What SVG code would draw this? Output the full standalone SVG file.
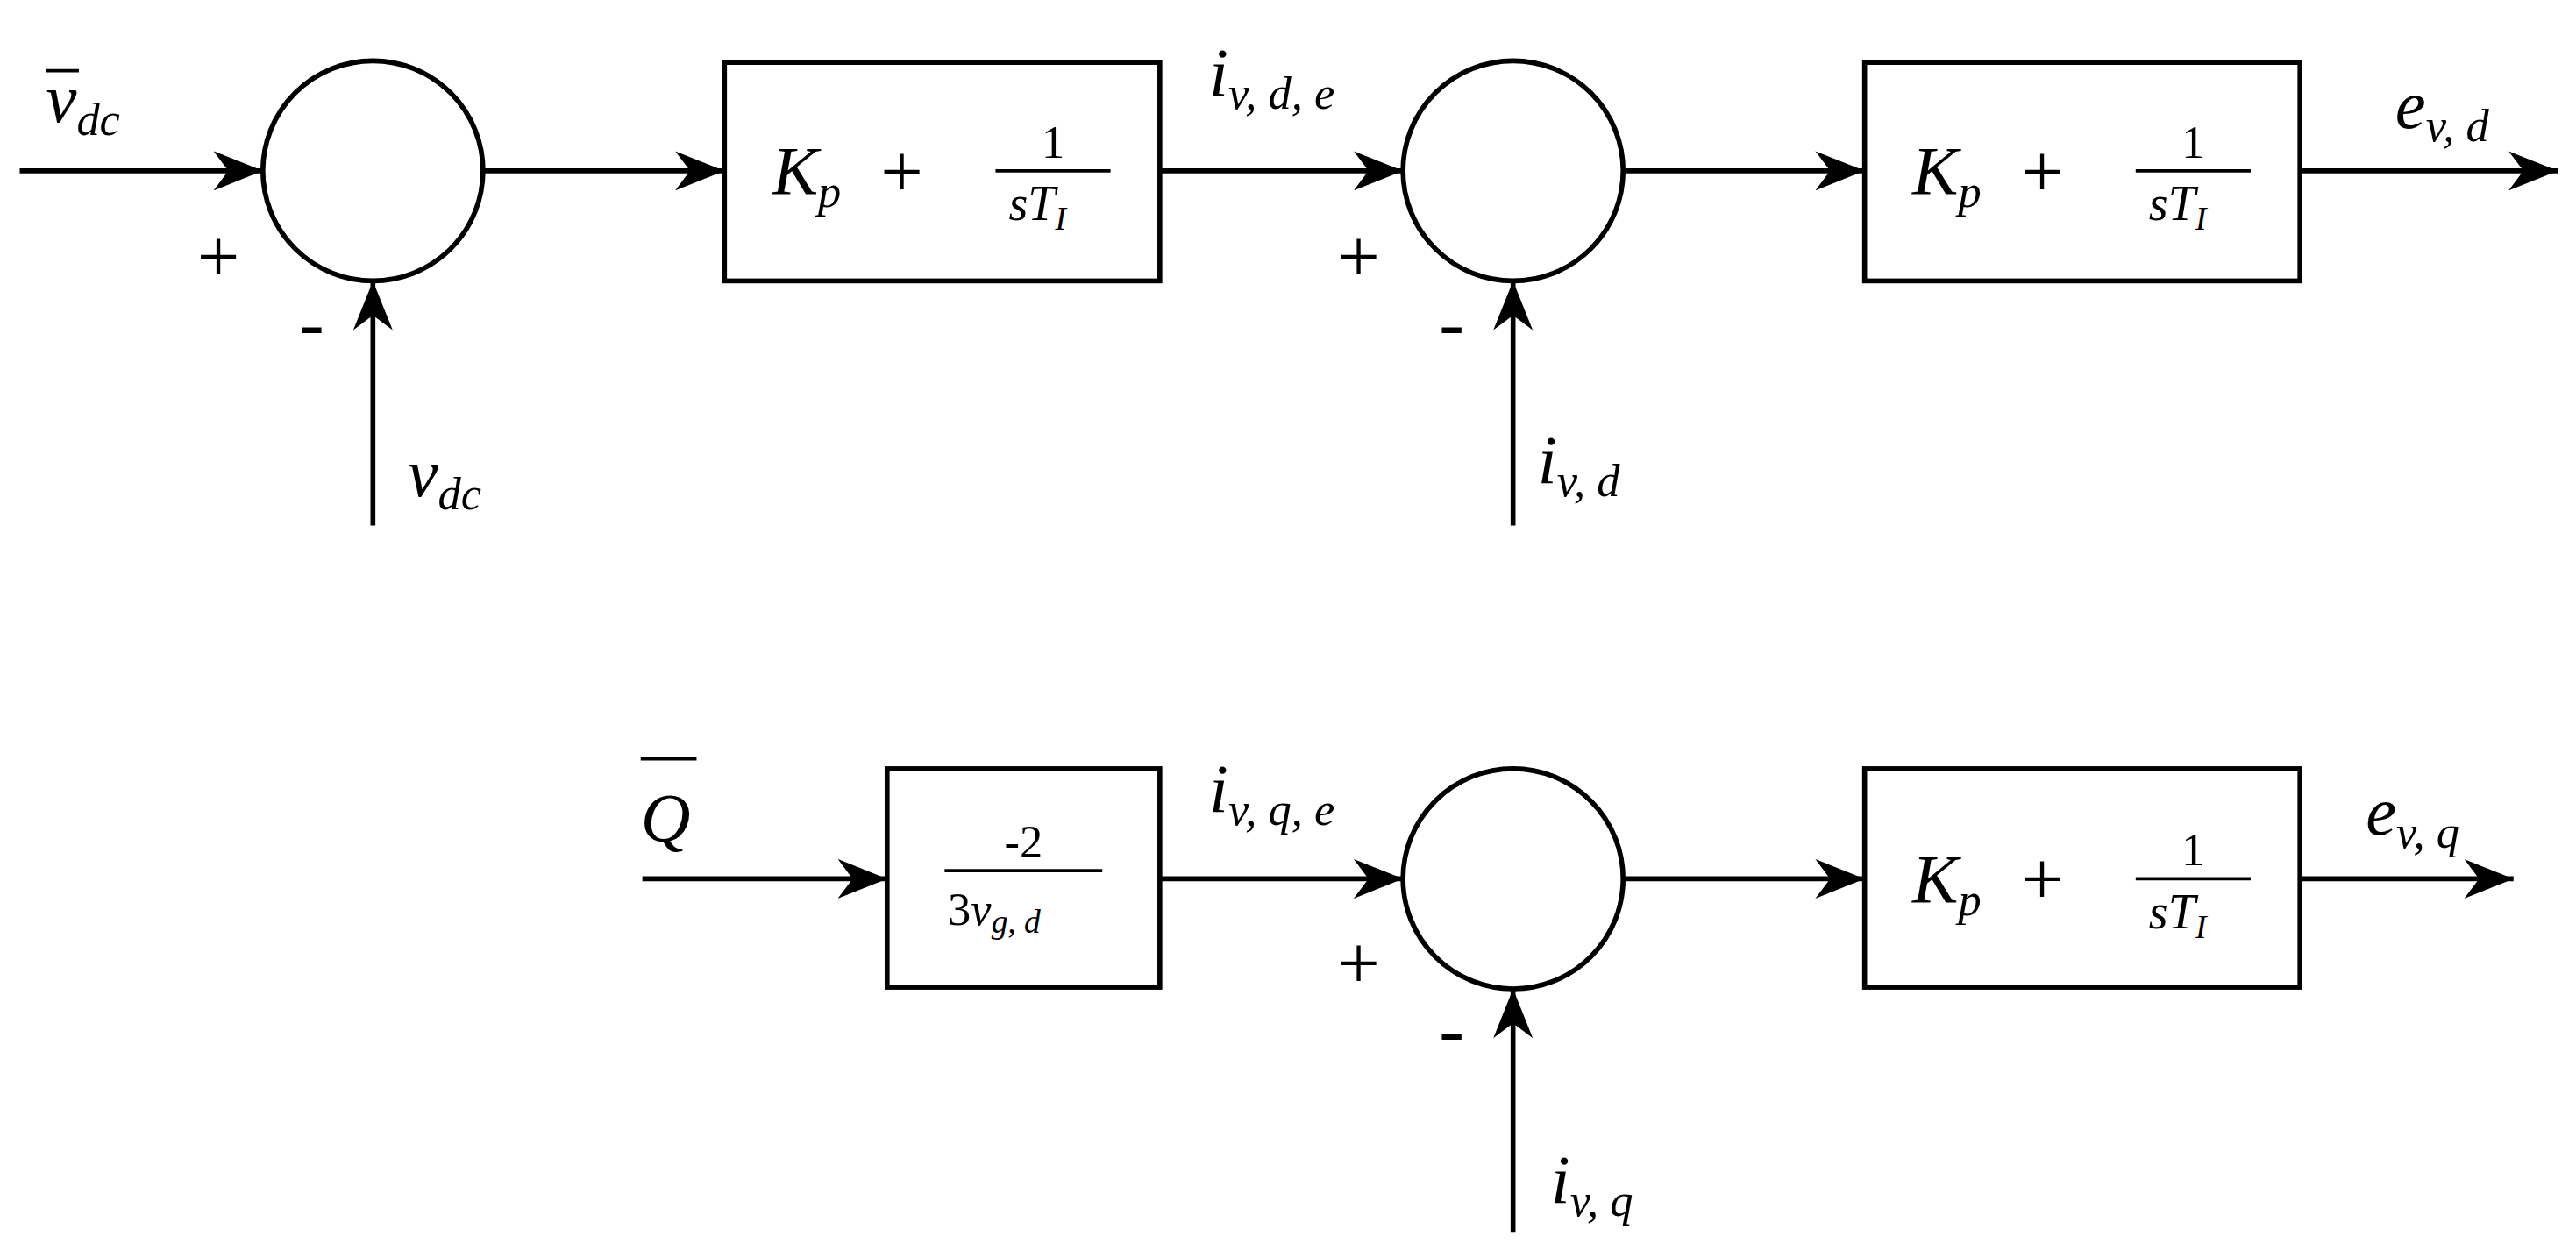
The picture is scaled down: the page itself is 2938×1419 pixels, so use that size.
<svg xmlns="http://www.w3.org/2000/svg" width="2938" height="1419" viewBox="0 0 2938 1419">
<style>
.s{fill:none;stroke:#000;stroke-width:3}
.b{fill:#fff;stroke:#000;stroke-width:3}
.m{font-family:"Liberation Serif",serif;font-style:italic;font-size:42px}
.sub{font-size:28px}
.r{font-family:"Liberation Serif",serif;font-size:46px}
.f{font-family:"Liberation Serif",serif;font-size:28px}
</style>
<defs>
<marker id="A" viewBox="0 0 10 8" refX="10" refY="4" markerWidth="30" markerHeight="24" markerUnits="userSpaceOnUse" orient="auto"><path d="M0,0 L10,4 L0,8 L3,4z" fill="#000"/></marker></defs>
<rect width="2938" height="1419" fill="#fff"/>
<g transform="scale(1.8737)">
<g id="connectors" class="s">
<line x1="12" y1="104" x2="160" y2="104" marker-end="url(#A)"/>
<line x1="294" y1="104" x2="441" y2="104" marker-end="url(#A)"/>
<line x1="706" y1="104" x2="854" y2="104" marker-end="url(#A)"/>
<line x1="988" y1="104" x2="1135" y2="104" marker-end="url(#A)"/>
<line x1="1400" y1="104" x2="1557" y2="104" marker-end="url(#A)"/>
<line x1="227" y1="320" x2="227" y2="171" marker-end="url(#A)"/>
<line x1="921" y1="320" x2="921" y2="171" marker-end="url(#A)"/>
<line x1="391" y1="535" x2="540" y2="535" marker-end="url(#A)"/>
<line x1="706" y1="535" x2="854" y2="535" marker-end="url(#A)"/>
<line x1="988" y1="535" x2="1135" y2="535" marker-end="url(#A)"/>
<line x1="1400" y1="535" x2="1530" y2="535" marker-end="url(#A)"/>
<line x1="921" y1="750" x2="921" y2="602" marker-end="url(#A)"/>
</g>
<g id="sum1"><circle class="b" cx="227" cy="104" r="67"/></g>
<g id="sum2"><circle class="b" cx="921" cy="104" r="67"/></g>
<g id="sum3"><circle class="b" cx="921" cy="535" r="67"/></g>
<g id="pi1"><rect class="b" x="441" y="38" width="265" height="133"/>
<text x="470" y="118" class="m">K<tspan class="sub" dy="8">p</tspan></text><text x="536" y="120" class="r">+</text>
<text x="641" y="96" class="f" text-anchor="middle">1</text><line class="s" x1="606" y1="104" x2="676" y2="104" style="stroke-width:2"/>
<text x="614" y="134" class="m" style="font-size:30px">sT<tspan style="font-size:20px" dy="6">I</tspan></text></g>
<g id="pi2"><rect class="b" x="1135" y="38" width="265" height="133"/>
<text x="1164" y="118" class="m">K<tspan class="sub" dy="8">p</tspan></text><text x="1230" y="120" class="r">+</text>
<text x="1335" y="96" class="f" text-anchor="middle">1</text><line class="s" x1="1300" y1="104" x2="1370" y2="104" style="stroke-width:2"/>
<text x="1308" y="134" class="m" style="font-size:30px">sT<tspan style="font-size:20px" dy="6">I</tspan></text></g>
<g id="gain"><rect class="b" x="540" y="468" width="166" height="133"/>
<text x="623" y="522" class="f" text-anchor="middle">-2</text><line class="s" x1="575" y1="530" x2="671" y2="530" style="stroke-width:2"/>
<text x="577" y="563" class="f">3<tspan font-style="italic">v</tspan><tspan style="font-size:20px;font-style:italic" dy="5">g, d</tspan></text></g>
<g id="pi3"><rect class="b" x="1135" y="468" width="265" height="133"/>
<text x="1164" y="549" class="m">K<tspan class="sub" dy="8">p</tspan></text><text x="1230" y="551" class="r">+</text>
<text x="1335" y="527" class="f" text-anchor="middle">1</text><line class="s" x1="1300" y1="535" x2="1370" y2="535" style="stroke-width:2"/>
<text x="1308" y="565" class="m" style="font-size:30px">sT<tspan style="font-size:20px" dy="6">I</tspan></text></g>
<g id="labels">
<text x="28" y="74" class="m">v<tspan class="sub" dy="8">dc</tspan></text><line class="s" x1="28" y1="43" x2="48" y2="43" style="stroke-width:2"/>
<text x="120" y="172" class="r">+</text><text x="182" y="212" class="r">-</text>
<text x="248" y="302" class="m">v<tspan class="sub" dy="8">dc</tspan></text>
<text x="736" y="58" class="m">i<tspan class="sub" dy="8">v, d, e</tspan></text>
<text x="814" y="172" class="r">+</text><text x="876" y="212" class="r">-</text>
<text x="936" y="294" class="m">i<tspan class="sub" dy="8">v, d</tspan></text>
<text x="1458" y="78" class="m">e<tspan class="sub" dy="8">v, d</tspan></text>
<text x="390" y="512" class="m">Q</text><line class="s" x1="390" y1="462" x2="424" y2="462" style="stroke-width:2"/>
<text x="736" y="494" class="m">i<tspan class="sub" dy="8">v, q, e</tspan></text>
<text x="814" y="602" class="r">+</text><text x="876" y="642" class="r">-</text>
<text x="944" y="732" class="m">i<tspan class="sub" dy="8">v, q</tspan></text>
<text x="1440" y="508" class="m">e<tspan class="sub" dy="8">v, q</tspan></text>
</g>
</g>
</svg>
